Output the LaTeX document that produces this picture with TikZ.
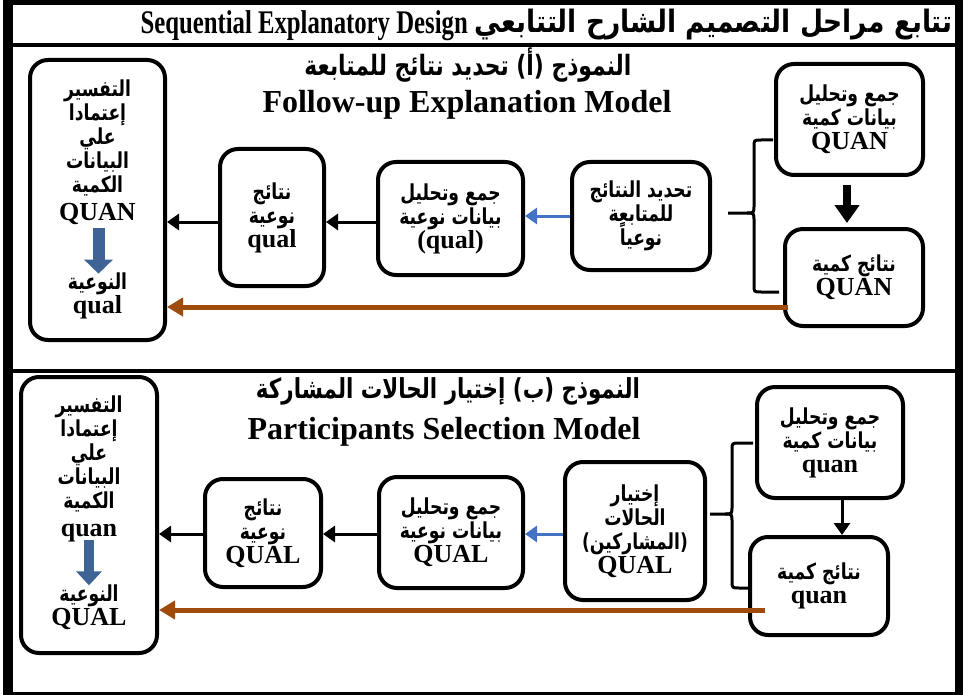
\documentclass[tikz,border=0pt]{standalone}
\usepackage{fontspec}
\usepackage{graphicx}
\setmainfont{Liberation Serif}
\newfontfamily\arabicfont[Script=Arabic,FakeStretch=0.78]{DejaVu Sans}
\TeXXeTstate=1
\usetikzlibrary{arrows.meta,calc}
\def\arsize{22}
\newcommand{\AR}[1]{{\arabicfont\bfseries\fontsize{\arsize}{24}\selectfont\beginR #1\endR}}
\definecolor{brownc}{RGB}{158,75,12}
\definecolor{bluec}{RGB}{68,114,196}
\definecolor{steelc}{RGB}{62,100,150}
\begin{document}
\lineskiplimit=-100pt
\begin{tikzpicture}[x=1pt,y=-1pt,
  txt/.style={align=center, inner sep=0pt, font=\bfseries\fontsize{26}{24}\selectfont},
  rbox/.style={txt, draw, line width=4pt, rounded corners=18pt},
  conn/.style={line width=3pt, -{Triangle[width=16pt,length=12pt]}},
  blueconn/.style={conn, draw=bluec, -{Triangle[width=16pt,length=12pt]}},
  brownconn/.style={line width=5pt, draw=brownc, -{Triangle[width=18pt,length=16pt]}},
  bigblue/.style={line width=12pt, draw=steelc, -{Triangle[width=28pt,length=14pt]}},
  brace/.style={line width=3pt},
  ptitle/.style={inner sep=0pt, font=\bfseries\fontsize{32}{32}\selectfont}
]
\useasboundingbox (0,0) rectangle (963,695);
% frame
\fill (3,0) rectangle (13,695);
\fill (955,0) rectangle (963,695);
\fill (3,0) rectangle (963,5);
\fill (13,43) rectangle (955,47);
\fill (13,369) rectangle (955,373);
\fill (3,692) rectangle (963,695);
% main title
\node[anchor=base east, inner sep=0pt] (ten) at (468,34) {\scalebox{0.75}[1]{\bfseries\fontsize{33}{33}\selectfont Sequential Explanatory Design}};
\node[anchor=east, inner sep=0pt] (tar) at (953,25) {\resizebox*{478pt}{31pt}{\AR{تتابع مراحل التصميم الشارح التتابعي}}};

% ---------- Panel A ----------
\node[ptitle, anchor=base] (Aar) at (468,76) {\resizebox{327pt}{!}{\AR{النموذج (أ) تحديد نتائج للمتابعة}}};
\node[ptitle, anchor=base] (Aen) at (467,113) {Follow-up Explanation Model};

\node[rbox, minimum width=135pt, minimum height=280pt] (A1) at (97.5,200) {};
\node[txt] (A1t) at (97.5,152) {\AR{التفسير}\\\AR{إعتمادا}\\\AR{علي}\\\AR{البيانات}\\\AR{الكمية}\\[4pt]QUAN};
\node[txt] (A1b) at (97.5,296) {\AR{النوعية}\\qual};
\draw[bigblue] ($(A1t.south)+(1,3)$) -- ($(A1b.north)+(1,1)$);

\node[rbox, minimum width=104pt, minimum height=137pt] (A2) at (272,217.5) {\AR{نتائج}\\\AR{نوعية}\\qual};
\node[rbox, minimum width=145pt, minimum height=113pt] (A3) at (450.5,218.5) {\AR{جمع وتحليل}\\\AR{بيانات نوعية}\\(qual)};
\node[rbox, minimum width=138pt, minimum height=108pt] (A4) at (641,216) {\AR{تحديد النتائج}\\\AR{للمتابعة}\\\AR{نوعياً}};
\node[rbox, minimum width=147pt, minimum height=111pt] (A5) at (849.5,119.5) {\AR{جمع وتحليل}\\\AR{بيانات كمية}\\QUAN};
\node[rbox, minimum width=138pt, minimum height=97pt] (A6) at (854,277.5) {\AR{نتائج كمية}\\QUAN};

\coordinate (yA) at (0,222);
\draw[blueconn] (A4.west) -- (A4.west -| A3.east);
\draw[conn] (A3.west |- yA) -- (A2.east |- yA);
\draw[conn] (A2.west |- yA) -- (A1.east |- yA);
\coordinate (bA) at (788,307);
\draw[brownconn] (bA) -- (bA -| A1.east);
\draw[line width=8pt, -{Triangle[width=24pt,length=18pt]}] ($(A5.south)+(-2.5,8)$) -- ($(A6.north)+(-7,-4)$);
\coordinate (sA) at (728,213);
\draw[brace] (773,140) -- (761,140) .. controls (754,140) .. (754,147) -- (754,205) .. controls (754,213) .. (747,213) -- (sA);
\draw[brace] (747,213) .. controls (754,213) .. (754,221) -- (754,285) .. controls (754,292) .. (761,292) -- (779,292);

% ---------- Panel B ----------
\node[ptitle, anchor=base] (Bar) at (448,398) {\resizebox{384pt}{!}{\AR{النموذج (ب) إختيار الحالات المشاركة}}};
\node[ptitle, anchor=base] (Ben) at (444,439) {Participants Selection Model};

\node[rbox, minimum width=136pt, minimum height=276pt] (B1) at (89,515) {};
\node[txt] (B1t) at (89,469) {\AR{التفسير}\\\AR{إعتمادا}\\\AR{علي}\\\AR{البيانات}\\\AR{الكمية}\\[4pt]quan};
\node[txt] (B1b) at (89,607) {\AR{النوعية}\\QUAL};
\draw[bigblue, line width=10pt, -{Triangle[width=25pt,length=14pt]}] ($(B1t.south)+(0,-2)$) -- ($(B1b.north)+(0,1)$);

\node[rbox, minimum width=116pt, minimum height=108pt] (B2) at (263,533) {\AR{نتائج}\\\AR{نوعية}\\QUAL};
\node[rbox, minimum width=144pt, minimum height=111pt] (B3) at (451,532.5) {\AR{جمع وتحليل}\\\AR{بيانات نوعية}\\QUAL};
\node[rbox, minimum width=140pt, minimum height=138pt] (B4) at (635,531) {\AR{إختيار}\\\AR{الحالات}\\\AR{(المشاركين)}\\QUAL};
\node[rbox, minimum width=146pt, minimum height=111pt] (B5) at (830,442.5) {\AR{جمع وتحليل}\\\AR{بيانات كمية}\\quan};
\node[rbox, minimum width=138pt, minimum height=98pt] (B6) at (819,586) {\AR{نتائج كمية}\\quan};

\coordinate (yB) at (0,534);
\draw[blueconn] (B4.west |- yB) -- (B3.east |- yB);
\draw[conn] (B3.west |- yB) -- (B2.east |- yB);
\draw[conn] (B2.west |- yB) -- (B1.east |- yB);
\coordinate (bB) at (765,610);
\draw[brownconn] (bB) -- (bB -| B1.east);
\coordinate (xB) at (842,0);
\draw[conn] (B5.south -| xB) -- (B6.north -| xB);
\coordinate (sB) at (710,514);
\draw[brace] (753,443) -- (740,443) .. controls (732,443) .. (732,450) -- (732,506) .. controls (732,514) .. (725,514) -- (sB);
\draw[brace] (725,514) .. controls (732,514) .. (732,522) -- (732,581) .. controls (732,588) .. (740,588) -- (748,588);
\end{tikzpicture}
\end{document}
